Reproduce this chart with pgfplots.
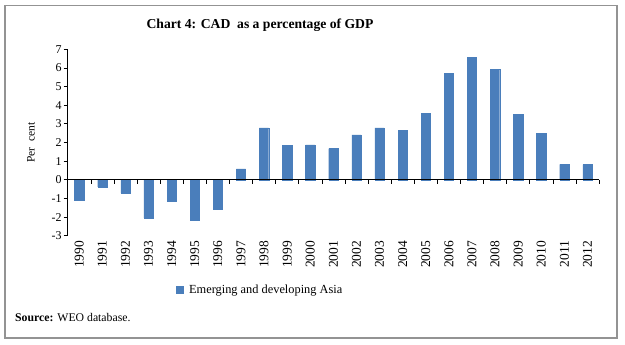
\documentclass[border=0pt]{standalone}
\usepackage{pgfplots}
\pgfplotsset{compat=1.18}
\usepackage{fontspec}
\setmainfont{Liberation Serif}
\definecolor{barblue}{RGB}{74,126,187}
\begin{document}
\begin{tikzpicture}
\useasboundingbox (0,0) rectangle (625bp,345bp);
\draw[gray!85, line width=1.2bp] (5bp,7bp) rectangle (617bp,339.5bp);
\node[font=\bfseries\fontsize{13.7}{15}\selectfont] at (260bp,320bp) {Chart 4: CAD\ \ as a percentage of GDP};
\node[anchor=base west, font=\fontsize{11.8}{13}\selectfont, inner sep=0pt] at (15bp,23.5bp) {\textbf{Source:} WEO database.};
\node[rotate=90, font=\fontsize{11.5}{13}\selectfont] at (31bp,202.5bp) {Per\ \ cent};
\begin{axis}[
  at={(67.7bp,109.3bp)}, anchor=south west,
  scale only axis, width=531.3bp, height=186.4bp,
  ybar, bar width=9.3bp,
  xmin=-0.5, xmax=22.5, ymin=-3, ymax=7,
  ytick={-3,...,7},
  axis x line*=bottom, axis y line*=left,
  x axis line style={draw=none},
  y axis line style={black, line width=0.8bp},
  xtick style={draw=none},
  ytick style={black, line width=0.8bp},
  ytick align=outside, major tick length=4bp,
  xtick={0,...,22},
  xticklabels={1990,1991,1992,1993,1994,1995,1996,1997,1998,1999,2000,2001,2002,2003,2004,2005,2006,2007,2008,2009,2010,2011,2012},
  xticklabel style={rotate=90, anchor=east, font=\fontsize{13.5}{15}\selectfont, inner sep=1bp},
  yticklabel style={font=\fontsize{12}{14}\selectfont, inner sep=2bp},
  /pgf/number format/assume math mode=true,
  clip=false,
  legend style={at={(0.362,-0.291)}, anchor=center, draw=none, font=\fontsize{12.4}{14}\selectfont},
  legend image code/.code={\fill[barblue] (0bp,-3.5bp) rectangle (7bp,3.5bp);},
]
\addplot[fill=barblue, draw=barblue] coordinates {
(0,-1.12) (1,-0.38) (2,-0.72) (3,-2.05) (4,-1.17) (5,-2.17) (6,-1.56) (7,0.59)
(8,2.78) (9,1.86) (10,1.87) (11,1.67) (12,2.41) (13,2.78) (14,2.64) (15,3.55)
(16,5.71) (17,6.55) (18,5.92) (19,3.50) (20,2.48) (21,0.83) (22,0.81)};
\addlegendentry{\hspace{4bp}Emerging and developing Asia}
\draw[black, line width=1bp] (axis cs:-0.5,0) -- (axis cs:22.5,0);
\pgfplotsinvokeforeach{-0.5,0.5,...,22.5}{\draw[black, line width=0.6bp] (axis cs:#1,0) -- ([yshift=-4bp]axis cs:#1,0);}
\end{axis}
\end{tikzpicture}
\end{document}
